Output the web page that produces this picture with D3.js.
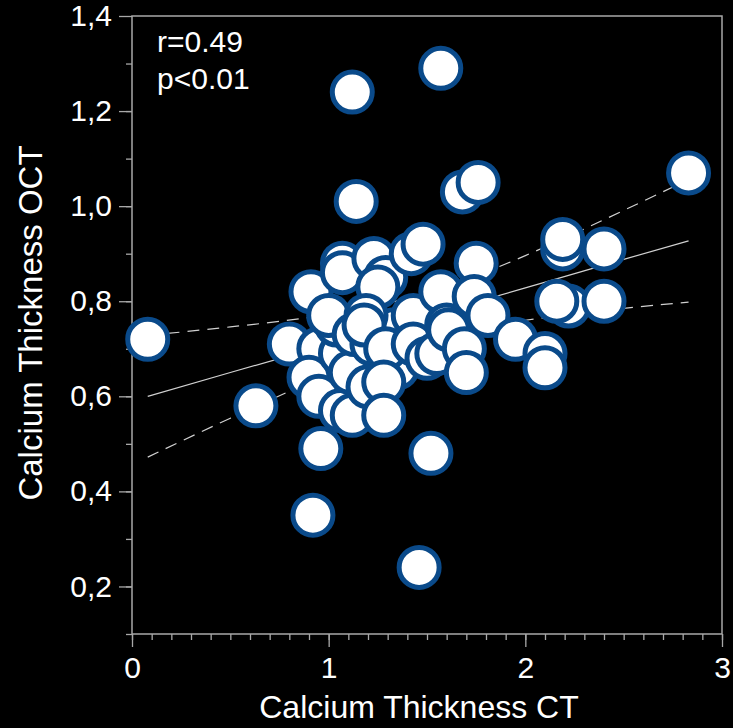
<!DOCTYPE html>
<html>
<head>
<meta charset="utf-8">
<script src="https://cdn.jsdelivr.net/npm/d3@7"></script>
<style>
  html, body { margin: 0; padding: 0; background: #000; }
  svg { display: block; font-family: "Liberation Sans", Arial, sans-serif; }
</style>
</head>
<body>
<div id="chart"></div>
<script>
// Data
const ctThickness = [0.08, 0.63, 0.80, 0.91, 0.92, 0.95, 0.90, 0.95, 0.96, 1.06,
  1.12, 1.06, 1.11, 1.07, 1.07, 1.12, 1.14, 1.23, 1.29, 1.25,
  1.04, 1.00, 1.13, 1.22, 1.33, 1.35, 1.20, 1.19, 1.18, 1.29,
  1.28, 1.28, 1.42, 1.48, 1.43, 1.43, 1.50, 1.55, 1.46, 1.52,
  1.57, 1.57, 1.60, 1.61, 1.68, 1.76, 1.75, 1.74, 1.81, 1.69,
  1.70, 1.95, 2.10, 2.10, 2.19, 2.19, 2.40, 2.22, 2.16, 2.40, 2.83];
const octThickness = [0.72, 0.58, 0.71, 0.82, 0.35, 0.70, 0.64, 0.60, 0.49, 0.57,
  0.56, 0.69, 0.65, 0.88, 0.86, 1.24, 1.01, 0.89, 0.85, 0.83,
  0.75, 0.77, 0.73, 0.71, 0.74, 0.66, 0.62, 0.77, 0.75, 0.70,
  0.63, 0.56, 0.90, 0.92, 0.77, 0.71, 0.68, 0.69, 0.24, 0.48,
  1.29, 0.82, 0.75, 0.74, 1.03, 1.05, 0.88, 0.81, 0.77, 0.70,
  0.65, 0.72, 0.69, 0.66, 0.91, 0.93, 0.91, 0.79, 0.80, 0.80, 1.07];

// regression line and its confidence band
const fitX = [0.08, 0.5, 1.0, 1.5, 2.0, 2.5, 2.83];
const fitMid = [0.600, 0.650, 0.709, 0.769, 0.828, 0.888, 0.927];
const fitUpper = [0.728, 0.746, 0.772, 0.818, 0.896, 0.991, 1.056];
const fitLower = [0.472, 0.554, 0.646, 0.720, 0.760, 0.785, 0.798];

const xTicks = [0, 1, 2, 3];
const xTickLabels = ["0", "1", "2", "3"];
const yTicks = [0.2, 0.4, 0.6, 0.8, 1.0, 1.2, 1.4];
const yTickLabels = ["0,2", "0,4", "0,6", "0,8", "1,0", "1,2", "1,4"];
const statsText = ["r=0.49", "p<0.01"];

// Set up the dimensions of the chart
const width = 733;
const height = 728;
const margin = { top: 16, right: 11, bottom: 94, left: 132 };
const innerW = width - margin.left - margin.right;
const innerH = height - margin.top - margin.bottom;

const svg = d3.select("#chart")
  .append("svg")
  .attr("width", width)
  .attr("height", height);

svg.append("rect")
  .attr("width", width)
  .attr("height", height)
  .attr("fill", "#000");

const g = svg.append("g")
  .attr("transform", `translate(${margin.left}, ${margin.top})`);

const x = d3.scaleLinear().domain([0, 3]).range([0, innerW]);
const y = d3.scaleLinear().domain([0.1, 1.4]).range([innerH, 0]);

const axisColor = "#a8a8a8";

// minor ticks
g.append("g")
  .attr("transform", `translate(0, ${innerH})`)
  .call(d3.axisBottom(x).tickValues(d3.range(0, 31).map(i => i / 10)).tickSize(6).tickFormat(""))
  .call(a => a.select(".domain").remove())
  .selectAll("line").attr("stroke", axisColor).attr("stroke-width", 1.3);

g.append("g")
  .call(d3.axisLeft(y).tickValues(d3.range(1, 14).map(i => i / 10)).tickSize(6).tickFormat(""))
  .call(a => a.select(".domain").remove())
  .selectAll("line").attr("stroke", axisColor).attr("stroke-width", 1.3);

// major ticks + labels
const xAxis = g.append("g")
  .attr("transform", `translate(0, ${innerH})`)
  .call(d3.axisBottom(x).tickValues(xTicks).tickSize(13).tickPadding(10)
    .tickFormat((d, i) => xTickLabels[i]));
xAxis.select(".domain").remove();
xAxis.selectAll("line").attr("stroke", axisColor).attr("stroke-width", 1.3);
xAxis.selectAll("text")
  .attr("fill", "#fff")
  .style("font-size", "30px");

const yAxis = g.append("g")
  .call(d3.axisLeft(y).tickValues(yTicks).tickSize(13).tickPadding(7)
    .tickFormat((d, i) => yTickLabels[i]));
yAxis.select(".domain").remove();
yAxis.selectAll("line").attr("stroke", axisColor).attr("stroke-width", 1.3);
yAxis.selectAll("text")
  .attr("fill", "#fff")
  .style("font-size", "30px");

// frame
g.append("rect")
  .attr("x", 0)
  .attr("y", 0)
  .attr("width", innerW)
  .attr("height", innerH)
  .attr("fill", "none")
  .attr("stroke", axisColor)
  .attr("stroke-width", 1.5);

// regression line and band
const line = d3.line()
  .x(d => x(d[0]))
  .y(d => y(d[1]))
  .curve(d3.curveNatural);

g.append("path")
  .datum(d3.zip(fitX, fitMid))
  .attr("d", line)
  .attr("fill", "none")
  .attr("stroke", "#d0d0d0")
  .attr("stroke-width", 1.2);

[fitUpper, fitLower].forEach(band => {
  g.append("path")
    .datum(d3.zip(fitX, band))
    .attr("d", line)
    .attr("fill", "none")
    .attr("stroke", "#d0d0d0")
    .attr("stroke-width", 1.2)
    .attr("stroke-dasharray", "12,8");
});

// points
g.selectAll(".dot")
  .data(d3.zip(ctThickness, octThickness))
  .join("circle")
  .attr("class", "dot")
  .attr("cx", d => x(d[0]))
  .attr("cy", d => y(d[1]))
  .attr("r", 20)
  .attr("fill", "#fff")
  .attr("stroke", "#0a4a8a")
  .attr("stroke-width", 5);

// stats text
g.selectAll(".stat")
  .data(statsText)
  .join("text")
  .attr("class", "stat")
  .attr("x", 25)
  .attr("y", (d, i) => 36 + i * 37)
  .attr("fill", "#fff")
  .style("font-size", "30px")
  .text(d => d);

// axis titles
svg.append("text")
  .attr("x", margin.left + innerW / 2 - 8)
  .attr("y", 718)
  .attr("text-anchor", "middle")
  .attr("fill", "#fff")
  .style("font-size", "32px")
  .text("Calcium Thickness CT");

svg.append("text")
  .attr("transform", "translate(42, 323) rotate(-90)")
  .attr("text-anchor", "middle")
  .attr("fill", "#fff")
  .style("font-size", "33px")
  .text("Calcium Thickness OCT");
</script>
</body>
</html>
